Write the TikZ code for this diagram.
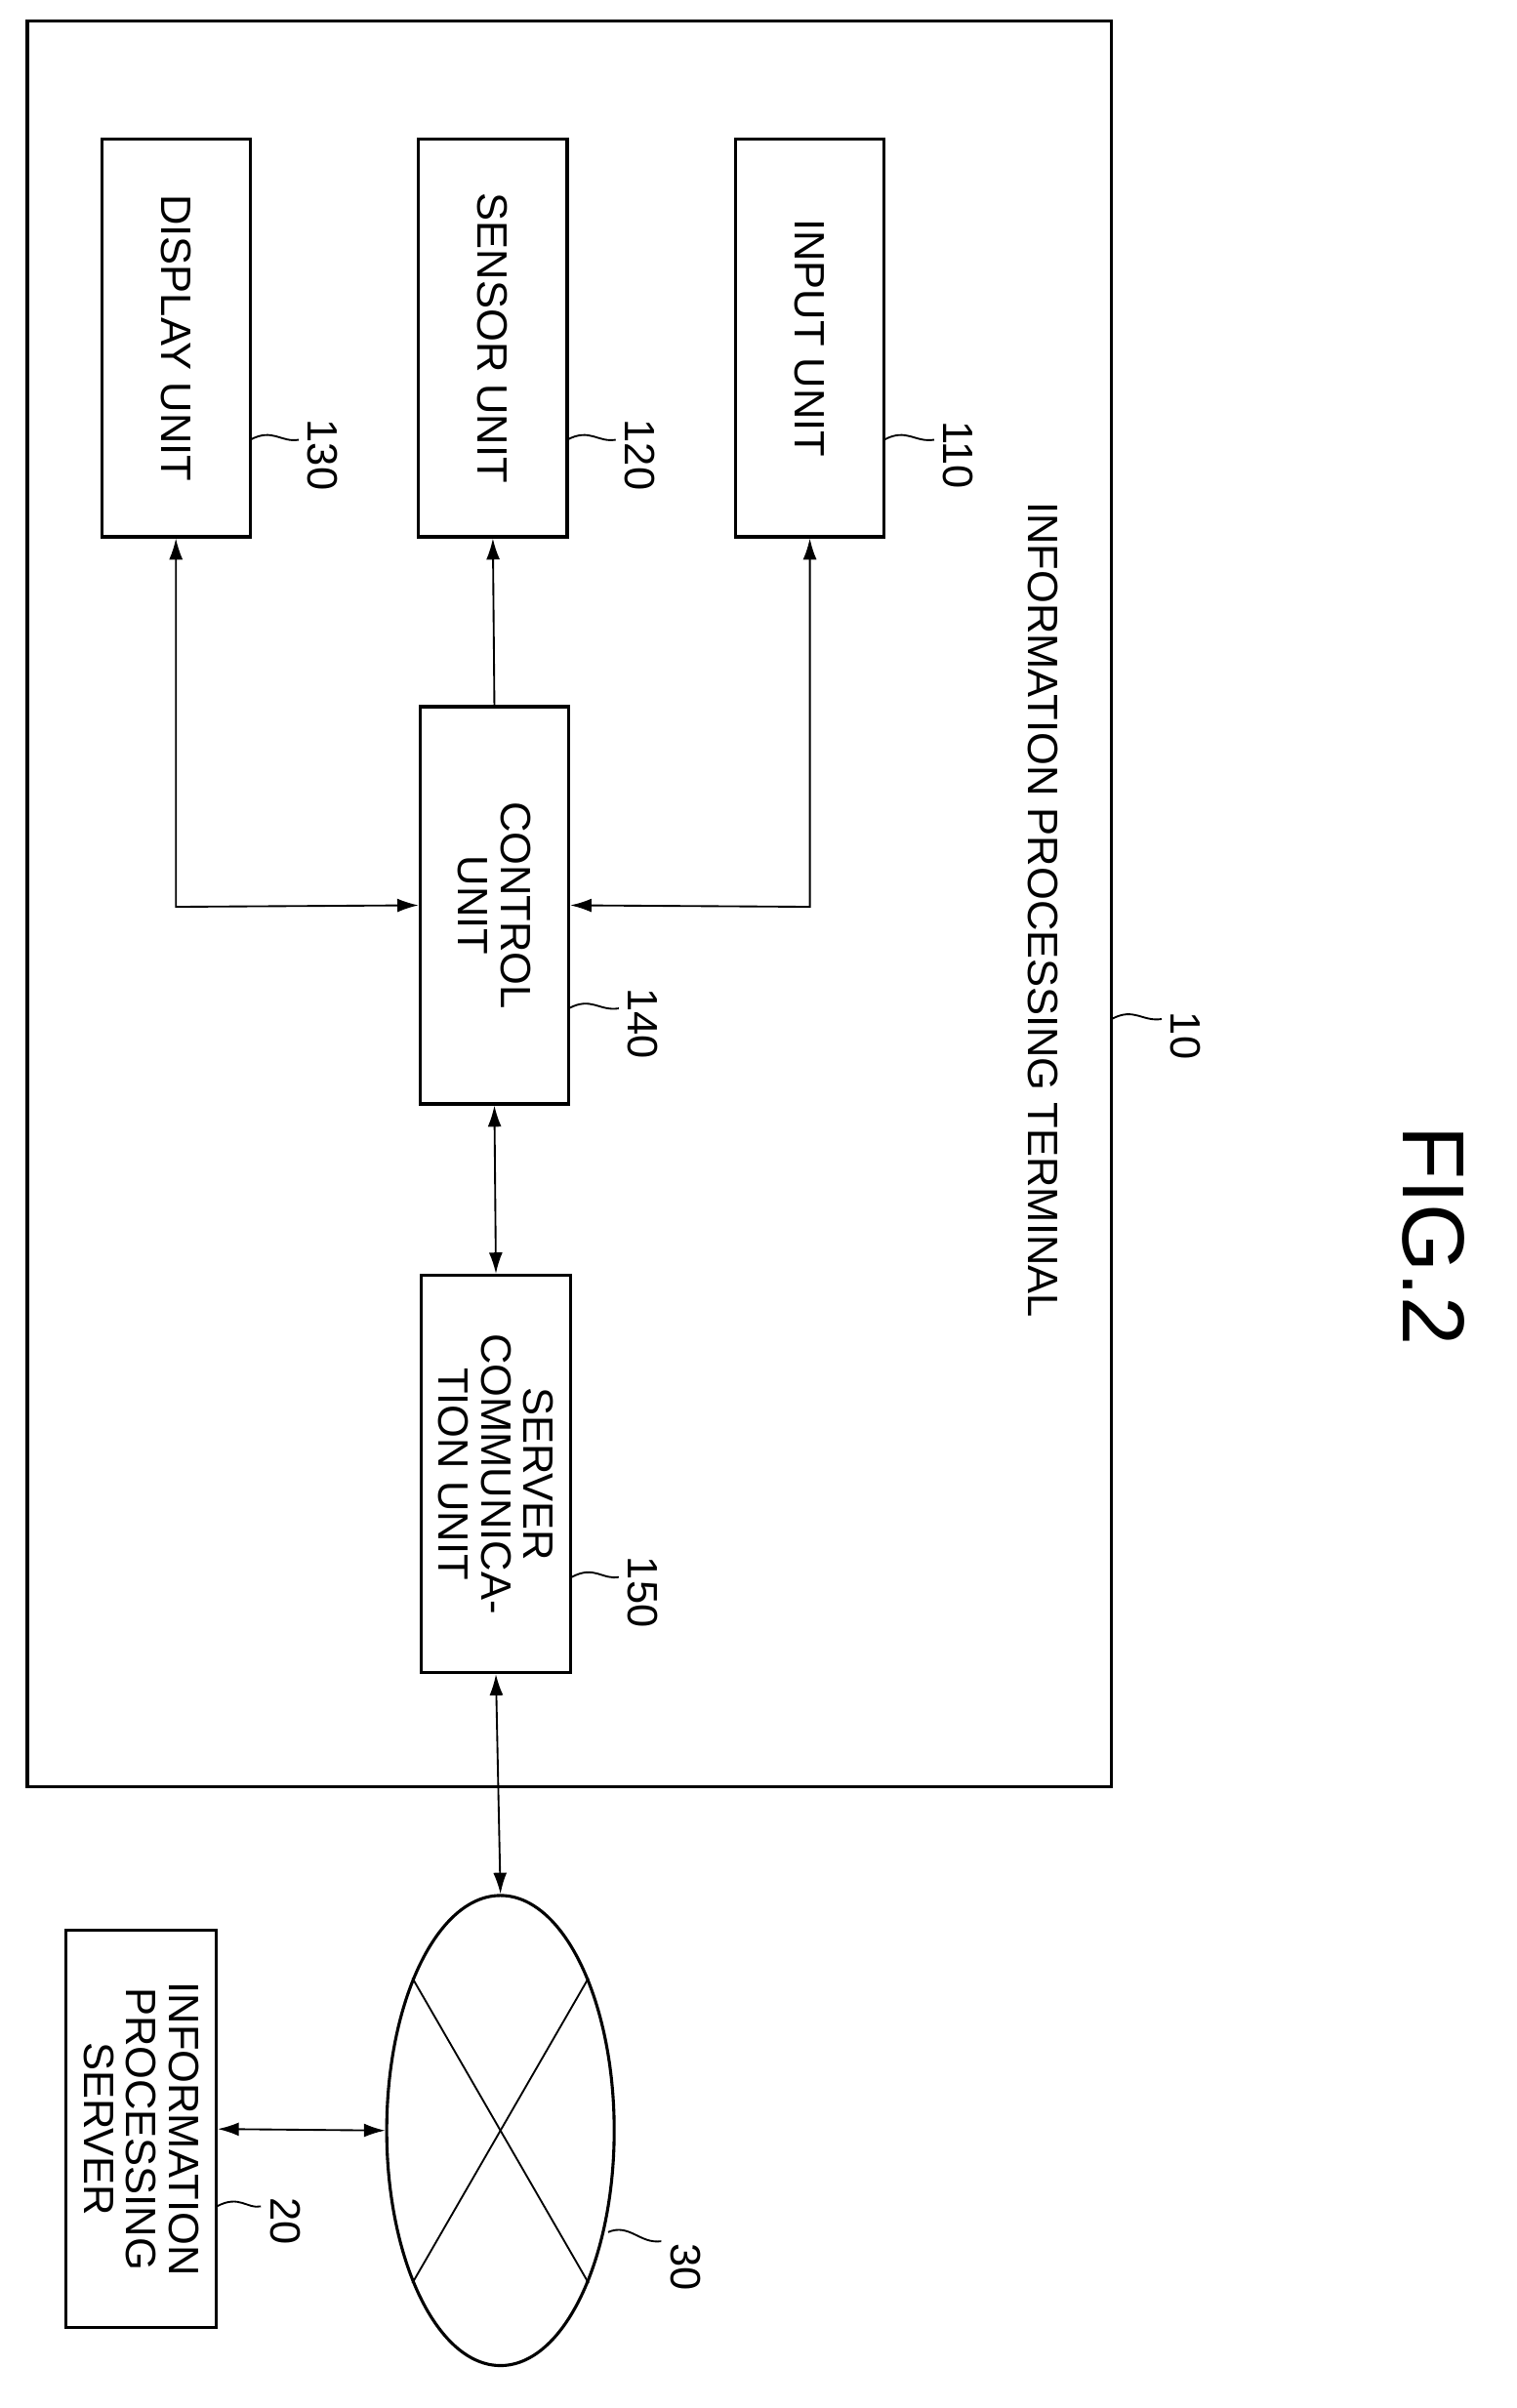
\documentclass[tikz,border=0pt]{standalone}
\usepackage{fontspec}
\setmainfont{Liberation Sans}
\usetikzlibrary{arrows.meta,shapes.geometric}
\begin{document}
\begin{tikzpicture}[x=1pt,y=-1pt,
 box/.style={draw,line width=2pt,minimum width=262pt,minimum height=98pt,rotate=-90,align=center,font=\fontsize{28}{28}\selectfont,inner sep=0pt},
 lbl/.style={rotate=-90,font=\fontsize{28}{28}\selectfont},
 ln/.style={line width=1.2pt},
 arr/.style={ln,{Latex[length=14pt,width=9pt]}-{Latex[length=14pt,width=9pt]}}]
\useasboundingbox (0,0) rectangle (1000,1588);
\draw[line width=2pt] (18,14) rectangle (733,1178);
\node[box] (disp) at (116,223) {DISPLAY UNIT};
\node[box] (sens) at (325,223) {SENSOR UNIT};
\node[box] (inp) at (534,223) {INPUT UNIT};
\node[box] (ctrl) at (326,597) {CONTROL\\UNIT};
\node[box] (srv) at (327,972) {SERVER\\COMMUNICA-\\TION UNIT};
\node[lbl] (t10) at (688,600) {INFORMATION PROCESSING TERMINAL};
\node[rotate=-90,font=\fontsize{58}{58}\selectfont] (fig) at (945,815) {FIG.2};
\node[lbl] (n130) at (213,300) {130};
\node[lbl] (n120) at (422,300) {120};
\node[lbl] (n110) at (632,300) {110};
\node[lbl] (n140) at (424,675) {140};
\node[lbl] (n150) at (424,1050) {150};
\node[lbl] (n10) at (782,683) {10};
\node[lbl] (n20) at (188,1465) {20};
\node[lbl] (n30) at (452,1495) {30};
\draw[ln] (165,290) .. controls (180,282) and (185,292) .. (197,290);
\draw[ln] (374,290) .. controls (389,282) and (394,292) .. (406,290);
\draw[ln] (583,290) .. controls (598,282) and (603,292) .. (616,290);
\draw[ln] (375,665) .. controls (390,657) and (395,667) .. (408,665);
\draw[ln] (377,1040) .. controls (392,1032) and (397,1042) .. (408,1040);
\draw[ln] (733,672) .. controls (748,664) and (753,674) .. (766,672);
\draw[ln] (143,1455) .. controls (158,1447) and (163,1457) .. (172,1455);
\node[draw,line width=2pt,minimum width=262pt,minimum height=99pt,rotate=-90,align=center,font=\fontsize{28}{28}\selectfont,inner sep=0pt] (isrv) at (93,1404) {INFORMATION\\PROCESSING\\SERVER};
\node[draw,line width=2pt,ellipse,minimum width=150pt,minimum height=310pt,inner sep=0pt] (net) at (330,1405) {};
\draw[ln] (401,1472) .. controls (415,1466) and (422,1480) .. (436,1478);
\draw[ln] (net.120) -- (net.-60);
\draw[ln] (net.60) -- (net.-120);
\draw[arr] (disp.east) -- (116,598) -- (ctrl.south);
\draw[ln,-{Latex[length=14pt,width=9pt]}] (ctrl.west) -- (sens.east);
\draw[arr] (inp.east) -- (534,598) -- (ctrl.north);
\draw[arr] (ctrl.east) -- (srv.west);
\draw[arr] (srv.east) -- (net.north);
\draw[arr] (isrv.north) -- (net.west);
\end{tikzpicture}
\end{document}
